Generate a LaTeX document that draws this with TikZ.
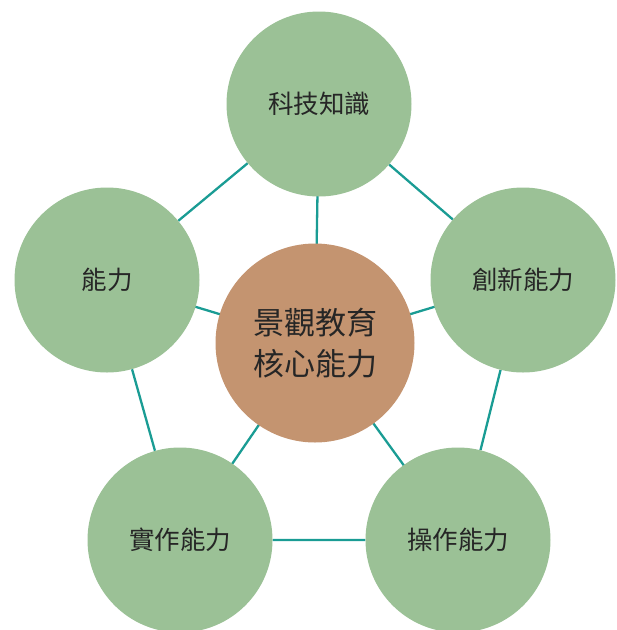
\documentclass[tikz,border=0pt]{standalone}
\usepackage{fontspec}
\setmainfont{Noto Sans CJK TC}
\RequirePackage{xcolor}
\definecolor{skillgreen}{HTML}{9BC196}
\definecolor{corebrown}{HTML}{C49470}
\definecolor{linkteal}{HTML}{1A9C94}
\definecolor{inktext}{HTML}{262626}
\usetikzlibrary{backgrounds}

\tikzset{
  skill/.style={circle, fill=skillgreen, minimum size=185pt, inner sep=0pt,
    text=inktext, font=\fontsize{25.5}{30}\selectfont},
  core/.style={circle, fill=corebrown, minimum size=199pt, inner sep=0pt,
    text=inktext, align=center, font=\fontsize{31}{41}\selectfont},
  link/.style={draw=linkteal, line width=2.3pt}
}

\begin{document}
\begin{tikzpicture}[x=1pt, y=-1pt]
  \useasboundingbox (0,0) rectangle (617,630);

  \node [core] (core) at (315,343) {景觀教育\\核心能力};

  \node [skill] (tech)   at (319,104) {科技知識};
  \node [skill] (create) at (523,280) {創新能力};
  \node [skill] (operate) at (458,540) {操作能力};
  \node [skill] (practice) at (180,540) {實作能力};
  \node [skill] (ability) at (107,280) {能力};

  \begin{scope}[on background layer]
    \draw [link] (tech) -- (create) -- (operate) -- (practice) -- (ability) -- (tech);
    \foreach \n in {tech,create,operate,practice,ability}
      \draw [link] (core.center) -- (\n.center);
  \end{scope}

\end{tikzpicture}
\end{document}
